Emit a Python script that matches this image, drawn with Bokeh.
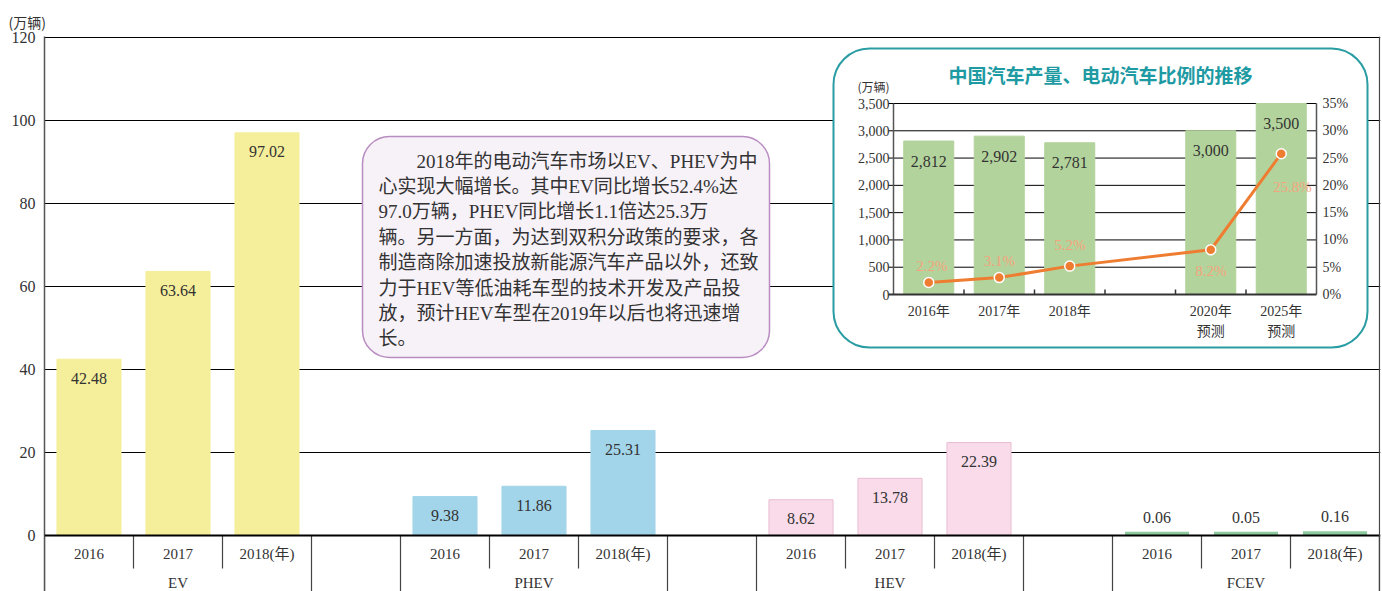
from bokeh.plotting import figure
from bokeh.models import Range1d, FixedTicker, BoxAnnotation, Label, Span
from bokeh.core.properties import value
from bokeh.embed import file_html
from bokeh.resources import INLINE

# ---------------- data ----------------
groups = ["EV", "PHEV", "HEV", "FCEV"]
years = ["2016", "2017", "2018(年)"]
ev = [42.48, 63.64, 97.02]
phev = [9.38, 11.86, 25.31]
hev = [8.62, 13.78, 22.39]
fcev = [0.06, 0.05, 0.16]
y_ticks = [0, 20, 40, 60, 80, 100, 120]
y_unit = "(万辆)"

inset_title = "中国汽车产量、电动汽车比例的推移"
inset_years = ["2016年", "2017年", "2018年", "2020年\n预测", "2025年\n预测"]
inset_forecast = [False, False, False, True, True]
inset_production = [2812, 2902, 2781, 3000, 3500]
inset_ev_share = [2.2, 3.1, 5.2, 8.2, 25.8]
inset_left_ticks = [0, 500, 1000, 1500, 2000, 2500, 3000, 3500]
inset_right_ticks = [0, 5, 10, 15, 20, 25, 30, 35]

paragraph = ("　　2018年的电动汽车市场以EV、PHEV为中\n"
             "心实现大幅增长。其中EV同比增长52.4%达\n"
             "97.0万辆，PHEV同比增长1.1倍达25.3万\n"
             "辆。另一方面，为达到双积分政策的要求，各\n"
             "制造商除加速投放新能源汽车产品以外，还致\n"
             "力于HEV等低油耗车型的技术开发及产品投\n"
             "放，预计HEV车型在2019年以后也将迅速增\n"
             "长。")

# ---------------- styles ----------------
fill_colors = ["#F5EE9A", "#A3D5EA", "#F9DBE9", "#8DCB9E"]
line_colors = ["#F5EE9A", "#A3D5EA", "#E9BCD3", "#8DCB9E"]
SERIF_NAME = "Liberation Serif, Noto Sans CJK SC"
SERIF = value(SERIF_NAME)
TXT = "#333333"

W, H = 1382, 591
FL, FR, FT, FB = 44, 1380, 36, 591


def xr(v0, p0, v1, p1):
    s = (v1 - v0) / (p1 - p0)
    return Range1d(start=v0 - (p0 - FL) * s, end=v0 + (FR - p0) * s)


def yr(v0, p0, v1, p1):
    s = (v1 - v0) / (p0 - p1)
    return Range1d(start=v0 - (FB - p0) * s, end=v0 + (p0 - FT) * s)


x_range = xr(0, 44, 15, 1379)
y_range = yr(0, 535, 120, 37)
xs = (x_range.end - x_range.start) / (FR - FL)
ys = (y_range.end - y_range.start) / (FB - FT)


def X(px):
    return x_range.start + (px - FL) * xs


def Y(py):
    return y_range.start + (FB - py) * ys


p = figure(width=W, height=H, x_range=x_range, y_range=y_range,
           output_backend="svg", toolbar_location=None, x_axis_location=None,
           min_border_left=FL, min_border_right=W - FR, min_border_top=FT,
           min_border_bottom=0, title=y_unit)
p.outline_line_color = None
p.background_fill_color = "white"
p.border_fill_color = "white"
p.title.align = "left"
p.title.offset = -36
p.title.standoff = 10
p.title.text_font = "Noto Sans CJK SC"
p.title.text_font_size = "14px"
p.title.text_font_style = "normal"
p.title.text_color = TXT

p.xgrid.visible = False
p.ygrid.ticker = FixedTicker(ticks=y_ticks[1:])
p.ygrid.grid_line_color = "black"
p.ygrid.grid_line_width = 1

ax = p.yaxis[0]
ax.ticker = FixedTicker(ticks=y_ticks)
ax.axis_line_color = "#555555"
ax.axis_line_width = 1.5
ax.major_tick_line_color = None
ax.minor_tick_line_color = None
ax.major_label_text_font = "Liberation Serif"
ax.major_label_text_font_size = "16px"
ax.major_label_text_color = TXT
ax.major_label_standoff = 3

# boxes (underlay, cover gridlines)
p.add_layout(BoxAnnotation(left=X(362), right=X(769), top=Y(136), bottom=Y(357),
                           fill_color="#F7F1F8", fill_alpha=1, line_color="#B98CC2",
                           line_alpha=1, line_width=1.5, border_radius=27, level="underlay"))
p.add_layout(BoxAnnotation(left=X(833), right=X(1367), top=Y(48), bottom=Y(347),
                           fill_color="white", fill_alpha=1, line_color="#2A9DA3",
                           line_alpha=1, line_width=2, border_radius=36, level="underlay"))

# ---------------- main bars ----------------
series = [ev, phev, hev, fcev]
bx, bt, bf, bl, blw, bw, lab = [], [], [], [], [], [], []
for g, vals in enumerate(series):
    for j, v in enumerate(vals):
        bx.append(4 * g + j + 0.5)
        bt.append(v)
        bf.append(fill_colors[g])
        bl.append(line_colors[g])
        thin = g == len(series) - 1
        blw.append(7 if thin else 1)
        bw.append(0.72 - (7 * xs if thin else 0))
        lab.append(f"{v:.2f}")
p.vbar(x=bx, top=bt, bottom=0, width=bw, fill_color=bf, line_color=bl, line_width=blw,
       line_join="miter")
p.text(x=bx, y=bt, text=lab, y_offset=[19 if v > 5 else -18 for v in bt],
       text_align="center", text_baseline="middle", text_font=SERIF,
       text_font_size="16px", text_color=TXT)

# category band below zero (white background, hides bar outlines below zero)
p.quad(left=[x_range.start], right=[x_range.end], top=[0], bottom=[y_range.start],
       fill_color="white", line_color=None)

p.add_layout(Span(location=0, dimension="width", line_color="black", line_width=2))
p.add_layout(Span(location=15, dimension="height", line_color="#444444", line_width=1.2))

short_b, long_b = [], []
for g in range(len(groups)):
    long_b += [4 * g, 4 * g + 3]
    short_b += [4 * g + 1, 4 * g + 2]
long_b.append(15)
p.segment(x0=short_b, x1=short_b, y0=[0] * len(short_b), y1=[Y(568)] * len(short_b),
          line_color="#444444", line_width=1.2)
p.segment(x0=long_b, x1=long_b, y0=[0] * len(long_b), y1=[Y(591)] * len(long_b),
          line_color="#444444", line_width=1.2)
cx, ct = [], []
for g in range(len(groups)):
    for j, yname in enumerate(years):
        cx.append(4 * g + j + 0.5)
        ct.append(yname)
p.text(x=cx, y=[Y(553)] * len(cx), text=ct, text_align="center", text_baseline="middle",
       text_font=SERIF, text_font_size="15px", text_color=TXT)
p.text(x=[4 * g + 1.5 for g in range(len(groups))], y=[Y(582)] * len(groups), text=groups,
       text_align="center", text_baseline="middle", text_font=SERIF,
       text_font_size="15px", text_color=TXT)

# paragraph
p.add_layout(Label(x=X(378), y=Y(150), text=paragraph, text_font=SERIF_NAME,
                   text_font_size="19px", text_color=TXT, text_align="left",
                   text_baseline="top", text_line_height=1.21))

# ---------------- inset ----------------
p.extra_x_ranges = {"ix": xr(0, 893, 6, 1316)}
p.extra_y_ranges = {"iy": yr(0, 294, 3500, 103), "ip": yr(0, 294, 35, 103)}
islot = [i + (1 if f else 0) + 0.5 for i, f in enumerate(inset_forecast)]

gl = inset_left_ticks[1:-1]
p.segment(x0=[-0.07] * len(gl), x1=[6] * len(gl), y0=gl, y1=gl, line_color="black",
          line_width=1, x_range_name="ix", y_range_name="iy")
top = inset_left_ticks[-1]
p.segment(x0=[-0.07], x1=[6], y0=[top], y1=[top], line_color="black", line_width=1,
          x_range_name="ix", y_range_name="iy")
p.segment(x0=[0, 6], x1=[0, 6], y0=[0, 0], y1=[top, top], line_color="#555555",
          line_width=1.5, x_range_name="ix", y_range_name="iy")
p.vbar(x=islot, top=inset_production, bottom=0, width=0.71, fill_color="#B3D39C",
       line_color="#B3D39C", x_range_name="ix", y_range_name="iy")
tick_h = 5 * 3500 / 191
tb = [1, 2, 3, 4, 5]
p.segment(x0=tb, x1=tb, y0=[0] * 5, y1=[tick_h] * 5, line_color="#333333", line_width=1.5,
          x_range_name="ix", y_range_name="iy")
p.segment(x0=[-0.07], x1=[6], y0=[0], y1=[0], line_color="#333333", line_width=2,
          x_range_name="ix", y_range_name="iy")
p.text(x=islot, y=inset_production, text=[f"{v:,}" for v in inset_production],
       y_offset=[20] * 5, text_align="center", text_baseline="middle", text_font=SERIF,
       text_font_size="16px", text_color=TXT, x_range_name="ix", y_range_name="iy")
p.line(x=islot, y=inset_ev_share, line_color="#EE7D31", line_width=3,
       x_range_name="ix", y_range_name="ip")
p.scatter(x=islot, y=inset_ev_share, size=10, fill_color="#EE7D31", line_color="white",
          line_width=1.5, x_range_name="ix", y_range_name="ip")
pct_dx = [3, 0, 0, 0, 11]
pct_dy = [-16, -17, -21, 21, 33]
p.text(x=islot, y=inset_ev_share, text=[f"{v}%" for v in inset_ev_share],
       x_offset=pct_dx, y_offset=pct_dy, text_align="center", text_baseline="middle",
       text_font=SERIF, text_font_size="15px", text_color="#F4A47C",
       x_range_name="ix", y_range_name="ip")
p.text(x=[X(889)] * len(inset_left_ticks), y=inset_left_ticks,
       text=[f"{t:,}" for t in inset_left_ticks], text_align="right",
       text_baseline="middle", text_font=SERIF, text_font_size="14px", text_color=TXT,
       y_range_name="iy")
p.text(x=[X(1322)] * len(inset_right_ticks), y=inset_right_ticks,
       text=[f"{t}%" for t in inset_right_ticks], text_align="left",
       text_baseline="middle", text_font=SERIF, text_font_size="14px", text_color=TXT,
       y_range_name="ip")
p.text(x=islot, y=[Y(303)] * 5, text=inset_years, text_align="center",
       text_baseline="top", text_font=SERIF, text_font_size="14px", text_color=TXT,
       text_line_height=1.35, x_range_name="ix")
p.add_layout(Label(x=X(873), y=Y(86), text=y_unit, text_font="Noto Sans CJK SC",
                   text_font_size="12px", text_color=TXT, text_align="center",
                   text_baseline="middle"))
p.add_layout(Label(x=X(1100), y=Y(74), text=inset_title, text_font="Noto Sans CJK SC",
                   text_font_size="19px", text_font_style="bold", text_color="#1E9AA3",
                   text_align="center", text_baseline="middle"))

open("out.html", "w").write(file_html(p, INLINE))
